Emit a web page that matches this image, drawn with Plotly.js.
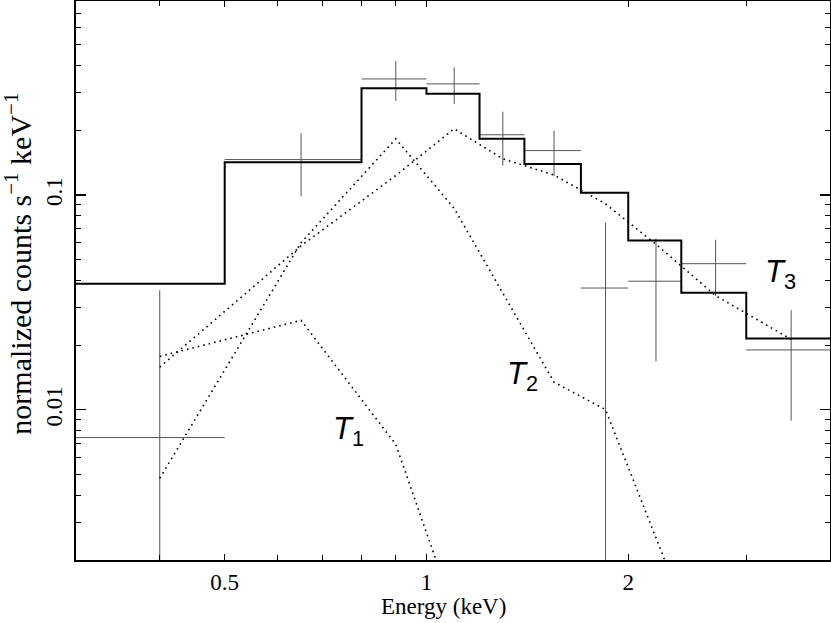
<!DOCTYPE html>
<html>
<head>
<meta charset="utf-8">
<script src="https://cdn.plot.ly/plotly-3.0.1.min.js"></script>
<style>html,body{margin:0;padding:0;background:#fff;}#chart{width:831px;height:623px;}</style>
</head>
<body>
<div id="chart"></div>
<script>
// Energy bins (keV)
const binLo = [0.3, 0.5, 0.8, 1.0, 1.2, 1.4, 1.7, 2.0, 2.4, 3.0];
const binHi = [0.5, 0.8, 1.0, 1.2, 1.4, 1.7, 2.0, 2.4, 3.0, 4.0];
// Observed normalized counts and 1-sigma errors
const dataRate = [0.00743, 0.1462, 0.347, 0.329, 0.1907, 0.161, 0.0369, 0.0397, 0.0479, 0.019];
const dataErr  = [0.0286, 0.0476, 0.073, 0.064, 0.0535, 0.0385, 0.0374, 0.0229, 0.014, 0.0101];
// Total folded model (step histogram)
const modelTotal = [0.0386, 0.1421, 0.314, 0.296, 0.1826, 0.1396, 0.1024, 0.0614, 0.0351, 0.0215];
// Model components
const compT1 = [0.01774, 0.0261, 0.0069, 0.00114, 0.00018, 0.00003, 0.000005, 0.000001, 0.0000002, 0.00000002];
const compT2 = [0.0048, 0.060, 0.1826, 0.0866, 0.0349, 0.01346, 0.01002, 0.00258, 0.0005, 0.00008];
const compT3 = [0.0158, 0.058, 0.1232, 0.2032, 0.1474, 0.1239, 0.091, 0.059, 0.034, 0.0213];
// Axis ticks
const xMajor = [0.5, 1, 2];
const xMajorText = ['0.5', '1', '2'];
const xMinor = [0.4, 0.6, 0.7, 0.8, 0.9, 3];
const yMajor = [0.01, 0.1];
const yMajorText = ['0.01', '0.1'];
const yMinor = [0.003, 0.004, 0.005, 0.006, 0.007, 0.008, 0.009,
                0.02, 0.03, 0.04, 0.05, 0.06, 0.07, 0.08, 0.09,
                0.2, 0.3, 0.4, 0.5, 0.6, 0.7];
// Axis titles
const xTitle = 'Energy (keV)';
const yTitle = 'normalized counts s<sup>−1</sup> keV<sup>−1</sup>';
// Component labels
const labelText = ['T', 'T', 'T'];
const labelSub = ['1', '2', '3'];
const labelE = [0.765, 1.39, 3.38];
const labelY = [0.0080, 0.0143, 0.0430];

const centers = binLo.map((lo, i) => (lo + binHi[i]) / 2);
const halfW = binLo.map((lo, i) => (binHi[i] - lo) / 2);
const stepX = binLo.concat([binHi[binHi.length - 1]]);
const stepY = modelTotal.concat([modelTotal[modelTotal.length - 1]]);

const dotLine = {color: '#000', width: 1.6, dash: '1.6px,4px'};
const traces = [
  {x: centers, y: dataRate, mode: 'markers', type: 'scatter',
   marker: {size: 0.1, color: '#555', opacity: 0},
   error_x: {type: 'data', array: halfW, symmetric: true, width: 0, thickness: 1, color: '#555'},
   error_y: {type: 'data', array: dataErr, symmetric: true, width: 0, thickness: 1, color: '#555'},
   showlegend: false, hoverinfo: 'skip'},
  {x: centers, y: compT1, mode: 'lines', type: 'scatter', line: dotLine, showlegend: false},
  {x: centers, y: compT2, mode: 'lines', type: 'scatter', line: dotLine, showlegend: false},
  {x: centers, y: compT3, mode: 'lines', type: 'scatter', line: dotLine, showlegend: false},
  {x: stepX, y: stepY, mode: 'lines', type: 'scatter', line: {color: '#000', width: 2, shape: 'hv'}, showlegend: false}
];

const serif = 'Liberation Serif, Times New Roman, serif';
const annotations = labelText.map((t, i) => ({
  x: Math.log10(labelE[i]), y: Math.log10(labelY[i]), xref: 'x', yref: 'y',
  text: '<i>' + t + '</i><sub>' + labelSub[i] + '</sub>', showarrow: false,
  font: {family: 'Liberation Sans, Arial, sans-serif', size: 31, color: '#000'}
}));
// axis titles placed as text outside the plot area
annotations.push({
  xref: 'paper', yref: 'paper', x: -0.077, y: 0.53, xanchor: 'center', yanchor: 'middle',
  textangle: -90, showarrow: false, text: yTitle,
  font: {family: serif, size: 30, color: '#000'}
});
annotations.push({
  xref: 'paper', yref: 'paper', x: 0.4874, y: -0.0823, xanchor: 'center', yanchor: 'middle',
  showarrow: false, text: xTitle,
  font: {family: serif, size: 23, color: '#000'}
});

const layout = {
  width: 831, height: 623,
  margin: {l: 76, r: 1, t: 1, b: 63},
  paper_bgcolor: '#fff', plot_bgcolor: '#fff',
  showlegend: false,
  font: {family: serif, color: '#000'},
  xaxis: {
    type: 'log', range: [Math.log10(0.3), Math.log10(4)],
    tickmode: 'array', tickvals: xMajor, ticktext: xMajorText,
    ticks: 'inside', ticklen: 6, tickwidth: 1.2, tickcolor: '#000',
    minor: {tickmode: 'array', tickvals: xMinor, ticks: 'inside', ticklen: 5, tickwidth: 1.2, tickcolor: '#000', showgrid: false},
    showline: true, linecolor: '#000', linewidth: 2, mirror: 'allticks',
    showgrid: false, zeroline: false,
    tickfont: {family: serif, size: 23, color: '#000'}
  },
  xaxis2: {
    type: 'log', range: [Math.log10(0.3), Math.log10(4)], overlaying: 'x', anchor: 'y', side: 'bottom',
    tickmode: 'array', tickvals: [1], ticks: 'inside', ticklen: 10, tickwidth: 1.2, tickcolor: '#000',
    showticklabels: false, showline: false, showgrid: false, zeroline: false, mirror: 'ticks'
  },
  yaxis: {
    type: 'log', range: [Math.log10(0.002), Math.log10(0.8)],
    tickmode: 'array', tickvals: yMajor, ticktext: yMajorText, tickangle: -90,
    ticks: 'inside', ticklen: 10, tickwidth: 1.2, tickcolor: '#000',
    minor: {tickmode: 'array', tickvals: yMinor, ticks: 'inside', ticklen: 5, tickwidth: 1.2, tickcolor: '#000', showgrid: false},
    showline: true, linecolor: '#000', linewidth: 2, mirror: 'allticks',
    showgrid: false, zeroline: false, ticklabelstandoff: 3,
    tickfont: {family: serif, size: 23, color: '#000'}
  },
  annotations: annotations
};

Plotly.newPlot('chart', traces, layout, {displayModeBar: false, staticPlot: true});
</script>
</body>
</html>
